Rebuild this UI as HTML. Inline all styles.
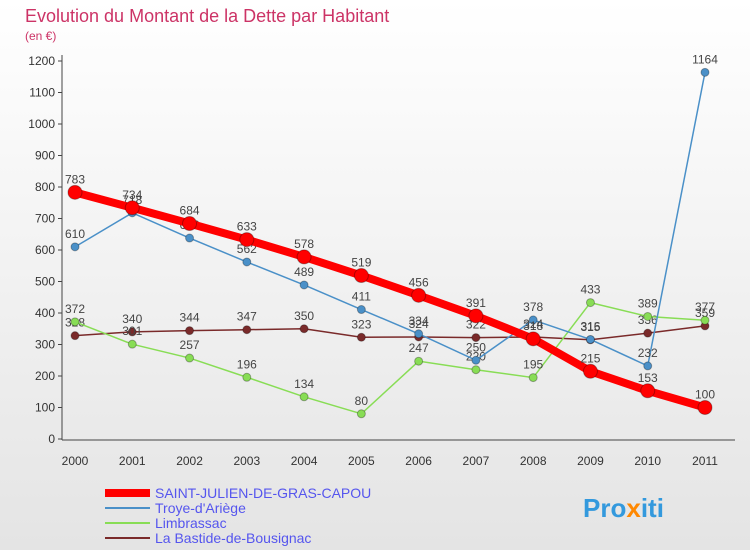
<!DOCTYPE html>
<html><head><meta charset="utf-8"><style>
body{margin:0;width:750px;height:550px;background:linear-gradient(#fff,#e4e4e4);font-family:"Liberation Sans",sans-serif;overflow:hidden}
</style></head><body>
<svg id="c" width="750" height="550">
<text x="25" y="22" font-size="18" fill="#cc3366">Evolution du Montant de la Dette par Habitant</text>
<text x="25" y="40" font-size="12" fill="#cc3366">(en €)</text>
<line x1="62" y1="55" x2="62" y2="440" stroke="#444"/>
<line x1="62" y1="440" x2="735" y2="440" stroke="#444"/>
<g id="g"></g>
<g>
<line x1="105" y1="493" x2="150" y2="493" stroke="#f00" stroke-width="8"/>
<text x="155" y="498" font-size="14" fill="#5555ee">SAINT-JULIEN-DE-GRAS-CAPOU</text>
<line x1="105" y1="508" x2="150" y2="508" stroke="#4a90c8" stroke-width="2"/>
<text x="155" y="513" font-size="14" fill="#5555ee">Troye-d'Ariège</text>
<line x1="105" y1="523" x2="150" y2="523" stroke="#88dd55" stroke-width="2"/>
<text x="155" y="528" font-size="14" fill="#5555ee">Limbrassac</text>
<line x1="105" y1="538" x2="150" y2="538" stroke="#7a2a2a" stroke-width="2"/>
<text x="155" y="543" font-size="14" fill="#5555ee">La Bastide-de-Bousignac</text>
</g>
<text x="583" y="517" font-size="26" font-weight="bold" fill="#3399dd">Pro<tspan fill="#ff8800">x</tspan>iti</text>
</svg>
<script>
const years=[2000,2001,2002,2003,2004,2005,2006,2007,2008,2009,2010,2011];
const yTicks=[0,100,200,300,400,500,600,700,800,900,1000,1100,1200];
const stJulien=[783,734,684,633,578,519,456,391,318,215,153,100];
const troye=[610,718,638,562,489,411,334,250,378,316,232,1164];
const limbrassac=[372,301,257,196,134,80,247,220,195,433,389,377];
const bastide=[328,340,344,347,350,323,324,322,324,315,336,359];
const NS='http://www.w3.org/2000/svg',g=document.getElementById('g');
const xS=i=>75+i*(630/11), yS=v=>439-v*0.315;
function mk(t,a){const e=document.createElementNS(NS,t);for(const k in a)e.setAttribute(k,a[k]);g.appendChild(e);return e;}
yTicks.forEach(v=>{
 const l=mk('line',{x1:58,x2:62,y1:yS(v),y2:yS(v),stroke:'#444'});
 
 
 const t=mk('text',{x:55,y:yS(v)+4,'font-size':12,'text-anchor':'end',fill:'#333'});t.textContent=v;
 
 
});
years.forEach((y,i)=>{
 const t=mk('text',{x:xS(i),y:465,'font-size':12,'text-anchor':'middle',fill:'#333'});t.textContent=y;
 
 
});
function series(d,col,w,r,name){
 const p=mk('polyline',{points:d.map((v,i)=>xS(i)+','+yS(v)).join(' '),fill:'none',stroke:col,'stroke-width':w});
 
 
 d.forEach((v,i)=>{
  const c=mk('circle',{cx:xS(i),cy:yS(v),r:r,fill:col,stroke:'rgba(0,0,0,0.3)'});
  
  
  const t=mk('text',{x:xS(i),y:yS(v)-9,'font-size':12,'text-anchor':'middle',fill:'#444'});t.textContent=v;
  
  
 });
}
series(bastide,'#7a2a2a',1.5,4,'la-bastide');
series(limbrassac,'#88dd55',1.5,4,'limbrassac');
series(troye,'#4a90c8',1.5,4,'troye');
series(stJulien,'#f00',8,7,'saint-julien');
</script>
</body></html>
